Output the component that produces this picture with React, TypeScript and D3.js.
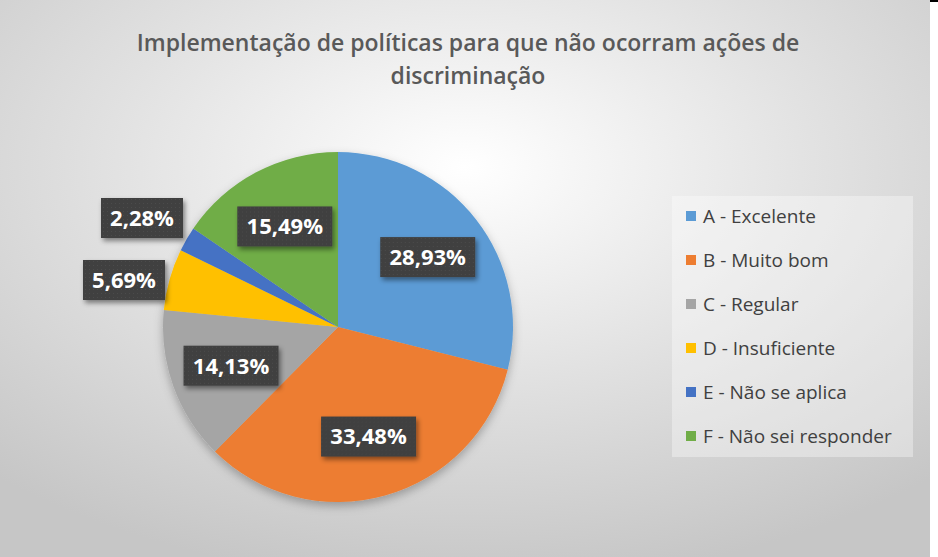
import { useMemo } from "react";
import { pie, arc, scaleOrdinal } from "d3";

const categories = [
  "A - Excelente",
  "B - Muito bom",
  "C - Regular",
  "D - Insuficiente",
  "E - Não se aplica",
  "F - Não sei responder",
];
const values = [28.93, 33.48, 14.13, 5.69, 2.28, 15.49];
const labels = ["28,93%", "33,48%", "14,13%", "5,69%", "2,28%", "15,49%"];
const colors = ["#5b9bd5", "#ed7d31", "#a5a5a5", "#ffc000", "#4472c4", "#70ad47"];
const titleLines = ["Implementação de políticas para que não ocorram ações de", "discriminação"];

const W = 930;
const H = 557;
const CX = 338;
const CY = 327;
const R = 175;
const FONT = "'Open Sans', 'Noto Sans', sans-serif";

// small slices get their labels pulled outside (like Excel's best fit)
const labelPos: Record<number, [number, number]> = {
  3: [124, 280],
  4: [142, 218],
};

export default function App() {
  const color = scaleOrdinal<string, string>().domain(categories).range(colors);
  const arcs = useMemo(
    () =>
      pie<number>()
        .sort(null)
        .value((d) => d)(values),
    []
  );
  const arcGen = arc<any>().innerRadius(0).outerRadius(R);
  const labelArc = arc<any>().innerRadius(R * 0.65).outerRadius(R * 0.65);

  return (
    <div style={{ position: "fixed", left: 0, top: 0, width: 938, height: 557, background: "#fff" }}>
      <svg width={938} height={557} style={{ display: "block" }}>
        <defs>
          <radialGradient id="bg" cx="0.5" cy="0.3" r="0.75">
            <stop offset="0" stopColor="#ffffff" />
            <stop offset="0.5" stopColor="#e2e2e2" />
            <stop offset="1" stopColor="#c6c6c6" />
          </radialGradient>
          <filter id="pieShadow" x="-20%" y="-20%" width="140%" height="140%">
            <feDropShadow dx="0" dy="4" stdDeviation="5" floodColor="#000" floodOpacity="0.28" />
          </filter>
          <filter id="boxShadow" x="-20%" y="-30%" width="140%" height="160%">
            <feDropShadow dx="2" dy="3" stdDeviation="2.5" floodColor="#000" floodOpacity="0.45" />
          </filter>
          <pattern id="dots" width="4" height="4" patternUnits="userSpaceOnUse">
            <rect width="4" height="4" fill="#3f3f3f" />
            <rect x="1" y="1" width="1" height="1" fill="#4c4c4c" />
          </pattern>
        </defs>
        <rect x={0} y={0} width={W} height={H} fill="url(#bg)" />
        <line x1={930} x2={938} y1={1} y2={1} stroke="#000" strokeWidth={2} />

        {titleLines.map((t, i) => (
          <text
            key={i}
            x={468}
            y={51 + i * 33}
            textAnchor="middle"
            fontFamily={FONT}
            fontWeight={600}
            fontSize={23}
            fill="#595959"
          >
            {t}
          </text>
        ))}

        <g transform={`translate(${CX},${CY})`}>
          <g filter="url(#pieShadow)">
            {arcs.map((a, i) => (
              <path key={i} d={arcGen(a) ?? ""} fill={color(categories[i])} />
            ))}
          </g>
          {arcs.map((a, i) => {
            const p = labelPos[i];
            const [lx, ly] = p ? [p[0] - CX, p[1] - CY] : labelArc.centroid(a);
            const bw = labels[i].length > 5 ? 95 : 82;
            const bh = 40;
            return (
              <g key={i} transform={`translate(${lx},${ly})`}>
                <rect x={-bw / 2} y={-bh / 2} width={bw} height={bh} fill="url(#dots)" filter="url(#boxShadow)" />
                <text
                  y={0}
                  dy="0.36em"
                  textAnchor="middle"
                  fontFamily={FONT}
                  fontWeight={700}
                  fontSize={22}
                  fill="#ffffff"
                >
                  {labels[i]}
                </text>
              </g>
            );
          })}
        </g>

        <g transform="translate(672,196)">
          <rect width={241} height={261} fill="#ffffff" fillOpacity={0.35} />
          {categories.map((c, i) => (
            <g key={c} transform={`translate(14,${20 + i * 44})`}>
              <rect x={0} y={-5} width={10} height={10} fill={color(c)} />
              <text x={17} dy="0.35em" fontFamily={FONT} fontSize={19} fill="#404040">
                {c}
              </text>
            </g>
          ))}
        </g>
      </svg>
    </div>
  );
}
